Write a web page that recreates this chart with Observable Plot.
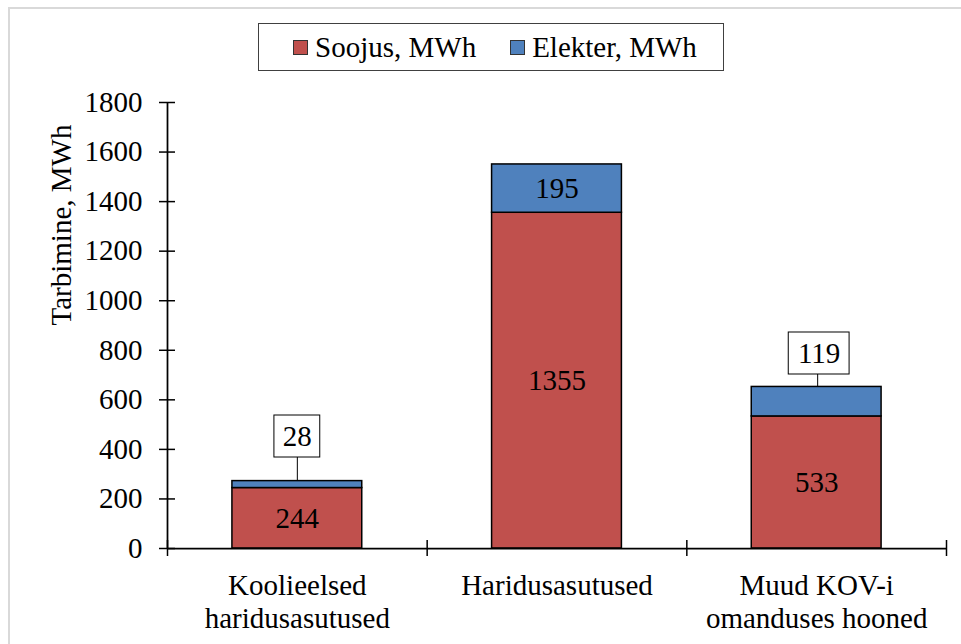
<!DOCTYPE html>
<html>
<head>
<meta charset="utf-8">
<script src="https://cdn.jsdelivr.net/npm/d3@7"></script>
<script src="https://cdn.jsdelivr.net/npm/@observablehq/plot@0.6"></script>
<style>
  html, body { margin: 0; padding: 0; overflow: hidden; background: #fff; }
  #wrap { position: relative; width: 961px; height: 644px; font-family: "Liberation Serif", "Times New Roman", serif; }
  #frame { position: absolute; left: 8px; top: 7px; width: 1200px; height: 1000px; border-top: 2px solid #d9d9d9; border-left: 2px solid #d9d9d9; box-sizing: border-box; }
  #chart { position: absolute; left: 0; top: 0; }
  #legend { position: absolute; left: 258px; top: 23px; width: 466px; height: 48px; box-sizing: border-box;
            border: 1.5px solid #404040; background: #fff; display: flex; align-items: center;
            padding-left: 34px; font-size: 29px; line-height: 1; color: #000; }
  .item { display: flex; align-items: center; }
  .sw { width: 15px; height: 15px; box-sizing: border-box; border: 1px solid #333; margin-right: 7px; }
  .item + .item { margin-left: 34px; }
</style>
</head>
<body>
<div id="wrap">
  <div id="frame"></div>
  <div id="chart"></div>
  <div id="legend"></div>
</div>
<script>
// ---- data ----
const categories = ["Koolieelsed\nharidusasutused", "Haridusasutused", "Muud KOV-i\nomanduses hooned"];
const seriesNames = ["Soojus, MWh", "Elekter, MWh"];
const seriesColors = ["#C0504D", "#4F81BD"];
const soojus = [244, 1355, 533];
const elekter = [28, 195, 119];
const yTicks = [0, 200, 400, 600, 800, 1000, 1200, 1400, 1600, 1800];

// ---- derived table ----
const table = [];
categories.forEach((c, i) => {
  table.push({i, series: seriesNames[0], y1: 0, y2: soojus[i], value: soojus[i]});
  table.push({i, series: seriesNames[1], y1: soojus[i], y2: soojus[i] + elekter[i], value: elekter[i]});
});
const halfBar = 0.25;
const FS = 29;

// labels: inside bars vs callouts
const insideLabels = table.filter(d => d.series === seriesNames[0] || d.i === 1);
const calloutLayout = [
  {i: 0, lift: 180, insetL: 42, insetR: 42, dx: 0},
  {i: 2, lift: 135, insetL: 37, insetR: 32, dx: 2.5}
];

const calloutMarks = calloutLayout.flatMap(c => {
  const d = table.find(t => t.i === c.i && t.series === seriesNames[1]);
  const row = [{i: c.i, top: d.y2, ly: d.y2 + c.lift, value: d.value}];
  return [
    Plot.ruleX(row, {x: "i", y1: "top", y2: "ly", stroke: "#000", strokeWidth: 1, dx: c.dx * 0.4}),
    Plot.rect(row, {x1: r => r.i - halfBar, x2: r => r.i + halfBar, y1: "ly", y2: "ly",
      insetLeft: c.insetL, insetRight: c.insetR, insetTop: -21, insetBottom: -21,
      fill: "#fff", stroke: "#000", strokeWidth: 1}),
    Plot.text(row, {x: "i", y: "ly", text: r => String(r.value), dx: c.dx, fill: "#000", fontSize: FS})
  ];
});

const chart = Plot.plot({
  width: 961,
  height: 644,
  marginLeft: 167,
  marginRight: 15,
  marginTop: 102,
  marginBottom: 96,
  style: {fontFamily: "'Liberation Serif', 'Times New Roman', serif", fontSize: FS + "px", color: "#000", background: "transparent", overflow: "visible"},
  x: {domain: [-0.5, categories.length - 0.5], axis: null},
  y: {domain: [0, 1800]},
  color: {domain: seriesNames, range: seriesColors},
  marks: [
    Plot.rect(table, {x1: d => d.i - halfBar, x2: d => d.i + halfBar, y1: "y1", y2: "y2", fill: "series", stroke: "#000", strokeWidth: 1.5}),
    Plot.ruleX([-0.5], {y1: 0, y2: 1800, stroke: "#000", strokeWidth: 1.75}),
    Plot.ruleY([0], {x1: -0.5, x2: categories.length - 0.5, stroke: "#000", strokeWidth: 1.75}),
    Plot.tickY(yTicks, {y: d => d, insetLeft: -8, insetRight: 771, stroke: "#000", strokeWidth: 1.5}),
    Plot.tickX(d3.range(categories.length + 1).map(k => k - 0.5), {x: d => d, insetTop: 438, insetBottom: -8, stroke: "#000", strokeWidth: 1.5}),
    Plot.axisY({ticks: yTicks, tickSize: 0, tickPadding: 25, tickFormat: d => String(d), label: null, fontSize: FS, fill: "#000"}),
    Plot.text(categories, {x: (d, i) => i, frameAnchor: "bottom", lineAnchor: "top", dy: 23, lineHeight: 1.14, text: d => d, fontSize: FS, fill: "#000"}),
    Plot.text(["Tarbimine, MWh"], {text: d => d, frameAnchor: "left", rotate: -90, dx: -106, fontSize: FS, fill: "#000"}),
    Plot.text(insideLabels, {x: "i", y: d => (d.y1 + d.y2) / 2, text: d => String(d.value), fontSize: FS, fill: "#000"}),
    ...calloutMarks
  ]
});
document.getElementById("chart").appendChild(chart);

// legend
const legend = document.getElementById("legend");
seriesNames.forEach((name, k) => {
  const item = document.createElement("div");
  item.className = "item";
  const sw = document.createElement("div");
  sw.className = "sw";
  sw.style.background = seriesColors[k];
  const label = document.createElement("span");
  label.textContent = name;
  item.appendChild(sw);
  item.appendChild(label);
  legend.appendChild(item);
});
</script>
</body>
</html>
